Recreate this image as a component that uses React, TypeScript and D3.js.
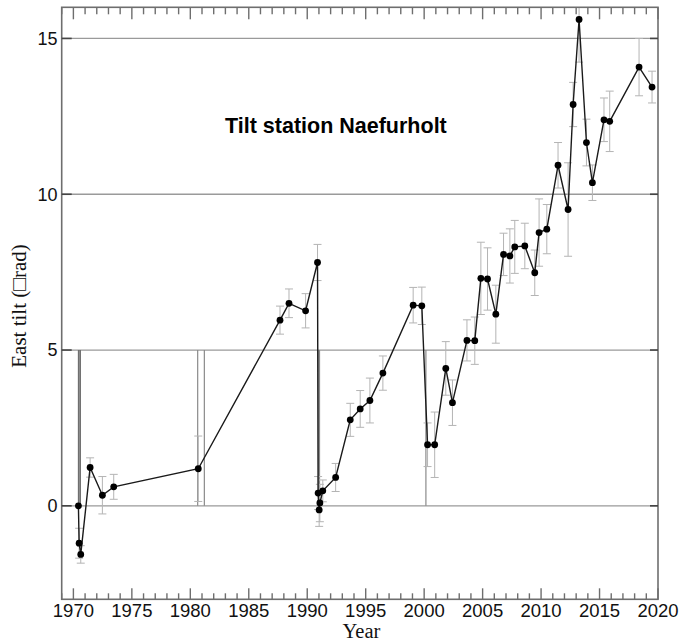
import React from "react";
import * as d3 from "d3";

// Survey epochs (decimal year), east tilt (µrad) and one-sigma uncertainty
const years = [
  1970.43, 1970.49, 1970.63, 1971.43, 1972.48, 1973.45, 1980.68, 1987.67,
  1988.44, 1989.86, 1990.88, 1990.93, 1991.02, 1991.08, 1991.33, 1992.43,
  1993.68, 1994.53, 1995.36, 1996.47, 1999.06, 1999.8, 2000.29, 2000.9,
  2001.85, 2002.42, 2003.66, 2004.33, 2004.85, 2005.42, 2006.13, 2006.79,
  2007.33, 2007.75, 2008.61, 2009.46, 2009.83, 2010.49, 2011.45, 2012.31,
  2012.74, 2013.25, 2013.88, 2014.39, 2015.38, 2015.87, 2018.38, 2019.49,
];
const tilt = [
  0.0, -1.2, -1.56, 1.23, 0.34, 0.61, 1.19, 5.96,
  6.5, 6.26, 7.81, 0.41, -0.13, 0.09, 0.48, 0.91,
  2.76, 3.11, 3.38, 4.26, 6.44, 6.42, 1.96, 1.96,
  4.41, 3.31, 5.31, 5.3, 7.3, 7.28, 6.15, 8.07,
  8.02, 8.31, 8.34, 7.48, 8.77, 8.88, 10.93, 9.51,
  12.88, 15.61, 11.66, 10.37, 12.39, 12.34, 14.08, 13.44,
];
const sigma = [
  0, 0.48, 0.28, 0.31, 0.6, 0.4, 1.05, 0.45,
  0.46, 0.55, 0.58, 0.53, 0.53, 0.6, 0.35, 0.45,
  0.53, 0.59, 0.72, 0.55, 0.57, 0.6, 0.7, 1.05,
  0.86, 0.73, 0.66, 0.76, 1.16, 1.0, 0.93, 0.68,
  0.87, 0.85, 0.73, 0.73, 1.08, 0.79, 0.73, 1.5,
  0.71, 1.37, 0.75, 0.57, 0.7, 0.97, 0.92, 0.51,
];

// Levelling/reset epochs marked by vertical bars from 0 to 5 µrad
const resetYears = [1970.45, 1970.58, 1980.63, 1981.2, 1990.98, 1991.05, 2000.15];
const resetSpan = [0, 5];

const xTicks = [1970, 1975, 1980, 1985, 1990, 1995, 2000, 2005, 2010, 2015, 2020];
const yTicks = [0, 5, 10, 15];

const titleText = "Tilt station Naefurholt";
const xLabel = "Year";
const yLabel = "East tilt (\u25A1rad)";

const W = 682;
const H = 642;
const M = { left: 61.7, right: 658, top: 7.3, bottom: 599.3 };

export default function App() {
  const x = d3.scaleLinear().domain([1969, 2020]).range([M.left, M.right]);
  const y = d3.scaleLinear().domain([-3, 16]).range([M.bottom, M.top]);

  const pts = years.map((yr, i) => ({ yr, v: tilt[i], e: sigma[i] }));
  const line = d3
    .line<{ yr: number; v: number }>()
    .x((d) => x(d.yr))
    .y((d) => y(d.v));

  const minorYears = d3.range(1969, 2021);
  const sans = "'Liberation Sans', Arial, Helvetica, sans-serif";
  const serif = "'Liberation Serif', 'Times New Roman', serif";
  const frame = "#6e6e6e";
  const cap = 4;

  return (
    <svg
      width={W}
      height={H}
      style={{ position: "absolute", left: 0, top: 0, background: "#fff" }}
    >
      <defs>
        <clipPath id="plotArea">
          <rect x={M.left} y={M.top} width={M.right - M.left} height={M.bottom - M.top} />
        </clipPath>
      </defs>

      {/* horizontal grid */}
      {yTicks.map((t) => (
        <line
          key={"g" + t}
          x1={M.left}
          x2={M.right}
          y1={y(t)}
          y2={y(t)}
          stroke="#9a9a9a"
          strokeWidth={1.3}
        />
      ))}

      <g clipPath="url(#plotArea)">
        {/* reset markers */}
        {resetYears.map((r, i) => (
          <line
            key={"r" + i}
            x1={x(r)}
            x2={x(r)}
            y1={y(resetSpan[0])}
            y2={y(resetSpan[1])}
            stroke={r < 1975 ? "#6f6f6f" : "#8a8a8a"}
            strokeWidth={r < 1975 ? 1.6 : 1.2}
          />
        ))}

        {/* error bars */}
        {pts
          .filter((d) => d.e > 0)
          .map((d, i) => (
            <g key={"e" + i} stroke="#b4b4b4" strokeWidth={1}>
              <line x1={x(d.yr)} x2={x(d.yr)} y1={y(d.v - d.e)} y2={y(d.v + d.e)} />
              <line x1={x(d.yr) - cap} x2={x(d.yr) + cap} y1={y(d.v - d.e)} y2={y(d.v - d.e)} />
              <line x1={x(d.yr) - cap} x2={x(d.yr) + cap} y1={y(d.v + d.e)} y2={y(d.v + d.e)} />
            </g>
          ))}

        {/* series */}
        <path d={line(pts) || ""} fill="none" stroke="#1a1a1a" strokeWidth={1.4} />
        {pts.map((d, i) => (
          <circle key={"p" + i} cx={x(d.yr)} cy={y(d.v)} r={3.4} fill="#000" />
        ))}
      </g>

      {/* frame */}
      <rect
        x={M.left}
        y={M.top}
        width={M.right - M.left}
        height={M.bottom - M.top}
        fill="none"
        stroke={frame}
        strokeWidth={1.6}
      />

      {/* x ticks, bottom and top */}
      {minorYears.map((yr) => {
        const major = yr % 5 === 0;
        const len = major ? 11 : 6;
        const xx = x(yr);
        return (
          <g key={"xt" + yr} stroke={frame} strokeWidth={1.4}>
            <line x1={xx} x2={xx} y1={M.bottom} y2={M.bottom - len} />
            <line x1={xx} x2={xx} y1={M.top} y2={M.top + len + 1} />
          </g>
        );
      })}

      {/* y ticks, left and right */}
      {yTicks.map((t) => (
        <g key={"yt" + t} stroke="#444" strokeWidth={1.6}>
          <line x1={M.left} x2={M.left + 10} y1={y(t)} y2={y(t)} />
          <line x1={M.right} x2={M.right - 8} y1={y(t)} y2={y(t)} />
        </g>
      ))}

      {/* tick labels */}
      {xTicks.map((t) => (
        <text
          key={"xl" + t}
          x={x(t)}
          y={616.5}
          textAnchor="middle"
          fontFamily={sans}
          fontSize={18.5}
          fill="#111"
        >
          {t}
        </text>
      ))}
      {yTicks.map((t) => (
        <text
          key={"yl" + t}
          x={57.5}
          y={y(t)}
          dy="0.35em"
          textAnchor="end"
          fontFamily={sans}
          fontSize={18}
          fill="#111"
        >
          {t}
        </text>
      ))}

      {/* axis titles */}
      <text
        x={361.5}
        y={638}
        textAnchor="middle"
        fontFamily={serif}
        fontSize={20.5}
        fill="#111"
      >
        {xLabel}
      </text>
      <text
        transform={`translate(26, 306) rotate(-90)`}
        textAnchor="middle"
        fontFamily={serif}
        fontSize={21}
        fill="#111"
      >
        {yLabel}
      </text>

      {/* station title */}
      <text
        x={225}
        y={132.5}
        fontFamily={sans}
        fontWeight="bold"
        fontSize={21.5}
        fill="#000"
      >
        {titleText}
      </text>
    </svg>
  );
}
